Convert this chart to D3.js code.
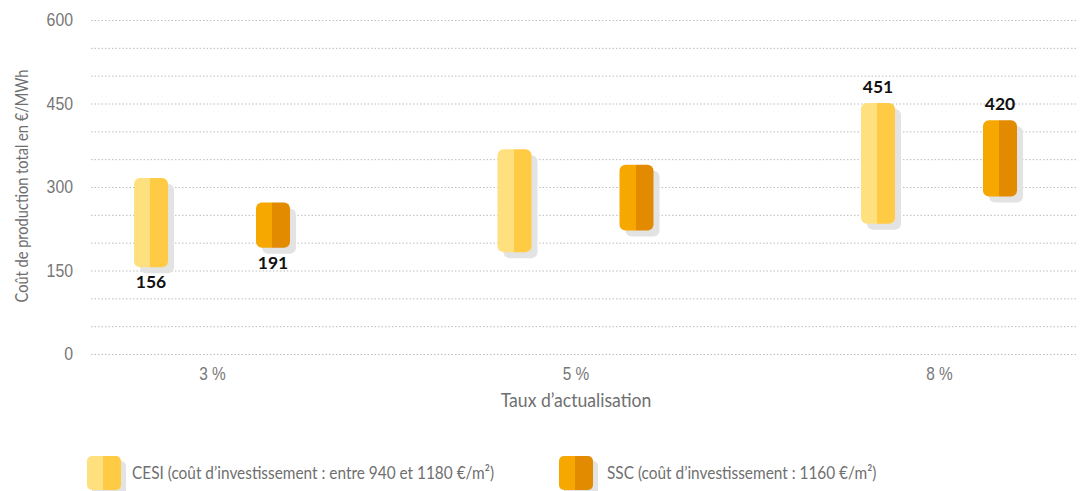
<!DOCTYPE html>
<html lang="fr">
<head>
<meta charset="utf-8">
<script src="https://cdn.jsdelivr.net/npm/d3@7"></script>
<style>
  html, body { margin: 0; padding: 0; background: #ffffff; }
  svg { display: block; font-family: Lato, "Noto Sans", sans-serif; }
</style>
</head>
<body>
<svg id="chart" width="1081" height="491"></svg>
<script>
// Discount rates (x categories)
const categories = ["3 %", "5 %", "8 %"];

// Series names
const seriesNames = ["CESI", "SSC"];
const legendLabels = [
  "CESI (coût d’investissement : entre 940 et 1180 €/m²)",
  "SSC (coût d’investissement : 1160 €/m²)"
];

// Production cost ranges, €/MWh (low / high end per discount rate)
const cesiLow  = [156, 183, 234];
const cesiHigh = [316, 368, 451];
const sscLow   = [191, 222, 283];
const sscHigh  = [272, 340, 420];

// Y axis ticks
const yTicks = [0, 150, 300, 450, 600];
const gridValues = d3.range(0, 601, 50);

// Value labels shown on the chart: [series index, category index, which end]
const valueLabels = [
  [0, 0, "low"],
  [1, 0, "low"],
  [0, 2, "high"],
  [1, 2, "high"]
];

const palette = {
  CESI: ["#ffe07e", "#ffcb45"],
  SSC:  ["#f6a700", "#e28b00"]
};

const rows = [];
categories.forEach((c, i) => {
  rows.push({ cat: c, series: "CESI", low: cesiLow[i],  high: cesiHigh[i] });
  rows.push({ cat: c, series: "SSC",  low: sscLow[i],   high: sscHigh[i] });
});

const svg = d3.select("#chart");
const defs = svg.append("defs");

// Narrow the regular-weight text horizontally
const sx = 0.88;
const narrow = `scale(${sx},1)`;

// Two-tone fill: lighter left half, darker right half
seriesNames.forEach(s => {
  const g = defs.append("linearGradient")
    .attr("id", "fill-" + s)
    .attr("x1", "0").attr("x2", "1").attr("y1", "0").attr("y2", "0");
  g.append("stop").attr("offset", "0").attr("stop-color", palette[s][0]);
  g.append("stop").attr("offset", "0.48").attr("stop-color", palette[s][0]);
  g.append("stop").attr("offset", "0.48").attr("stop-color", palette[s][1]);
  g.append("stop").attr("offset", "1").attr("stop-color", palette[s][1]);
});

const plotLeft = 91, plotRight = 1078;
const y = d3.scaleLinear().domain([0, 600]).range([354, 20]);
const x = d3.scalePoint().domain(categories).range([212, 939]);
const xSub = d3.scalePoint().domain(seriesNames).range([-61, 61]);
const barW = 34, radius = 6, shadowDx = 6, shadowDy = 6;

// Dotted horizontal grid
svg.append("g")
  .selectAll("line")
  .data(gridValues)
  .join("line")
  .attr("x1", plotLeft).attr("x2", plotRight)
  .attr("y1", d => y(d) + 0.5).attr("y2", d => y(d) + 0.5)
  .attr("stroke", "#bdbdbd")
  .attr("stroke-width", 1)
  .attr("stroke-dasharray", "1.5,2");

// Y axis labels
const yAxis = svg.append("g")
  .attr("transform", `translate(${plotLeft},0)`)
  .call(d3.axisLeft(y).tickValues(yTicks).tickSize(0).tickPadding(18).tickFormat(d3.format("d")));
yAxis.select(".domain").remove();
yAxis.selectAll("text")
  .attr("x", -18 / sx)
  .attr("transform", narrow)
  .attr("fill", "#777")
  .style("font-size", "18px")
  .style("font-family", null);

// X axis labels
const xAxis = svg.append("g")
  .attr("transform", `translate(0,${y(0)})`)
  .call(d3.axisBottom(x).tickSize(0).tickPadding(14));
xAxis.select(".domain").remove();
xAxis.selectAll("text")
  .attr("transform", narrow)
  .attr("fill", "#777")
  .style("font-size", "17.5px")
  .style("font-family", null);

// Axis titles
svg.append("text")
  .attr("transform", `translate(28,186) rotate(-90) ${narrow}`)
  .attr("text-anchor", "middle")
  .attr("fill", "#6f6f6f")
  .style("font-size", "16.6px")
  .text("Coût de production total en €/MWh");

svg.append("text")
  .attr("transform", `translate(576,407) ${narrow}`)
  .attr("text-anchor", "middle")
  .attr("fill", "#6f6f6f")
  .style("font-size", "20px")
  .text("Taux d’actualisation");

// Range bars with drop shadow
const bars = svg.append("g");
const barX = d => x(d.cat) + xSub(d.series) - barW / 2;

bars.selectAll("rect.shadow")
  .data(rows)
  .join("rect")
  .attr("class", "shadow")
  .attr("x", d => barX(d) + shadowDx)
  .attr("y", d => y(d.high) + shadowDy)
  .attr("width", barW)
  .attr("height", d => y(d.low) - y(d.high))
  .attr("rx", radius)
  .attr("fill", "#e3e3e3");

bars.selectAll("rect.bar")
  .data(rows)
  .join("rect")
  .attr("class", "bar")
  .attr("x", d => barX(d))
  .attr("y", d => y(d.high))
  .attr("width", barW)
  .attr("height", d => y(d.low) - y(d.high))
  .attr("rx", radius)
  .attr("fill", d => `url(#fill-${d.series})`);

// Value labels at the ends of selected bars
svg.append("g")
  .selectAll("text")
  .data(valueLabels)
  .join("text")
  .attr("x", ([s, c]) => x(categories[c]) + xSub(seriesNames[s]))
  .attr("y", ([s, c, end]) => {
    const r = rows[c * 2 + s];
    return end === "low" ? y(r.low) + 21 : y(r.high) - 10;
  })
  .attr("text-anchor", "middle")
  .attr("fill", "#111")
  .style("font-size", "17.5px")
  .style("font-weight", "700")
  .text(([s, c, end]) => {
    const r = rows[c * 2 + s];
    return end === "low" ? r.low : r.high;
  });

// Legend
const legendX = [87, 559];
const legendTextX = [132, 607];
const legend = svg.append("g")
  .selectAll("g")
  .data(seriesNames)
  .join("g")
  .attr("transform", (d, i) => `translate(${legendX[i]},456)`);

legend.append("rect")
  .attr("x", 5).attr("y", 5)
  .attr("width", 34).attr("height", 34)
  .attr("rx", 5)
  .attr("fill", "#e3e3e3");
legend.append("rect")
  .attr("width", 34).attr("height", 34)
  .attr("rx", 5)
  .attr("fill", d => `url(#fill-${d})`);
legend.append("text")
  .attr("transform", (d, i) => `translate(${legendTextX[i] - legendX[i]},23) ${narrow}`)
  .attr("fill", "#6f6f6f")
  .style("font-size", "17.5px")
  .text((d, i) => legendLabels[i]);
</script>
</body>
</html>
